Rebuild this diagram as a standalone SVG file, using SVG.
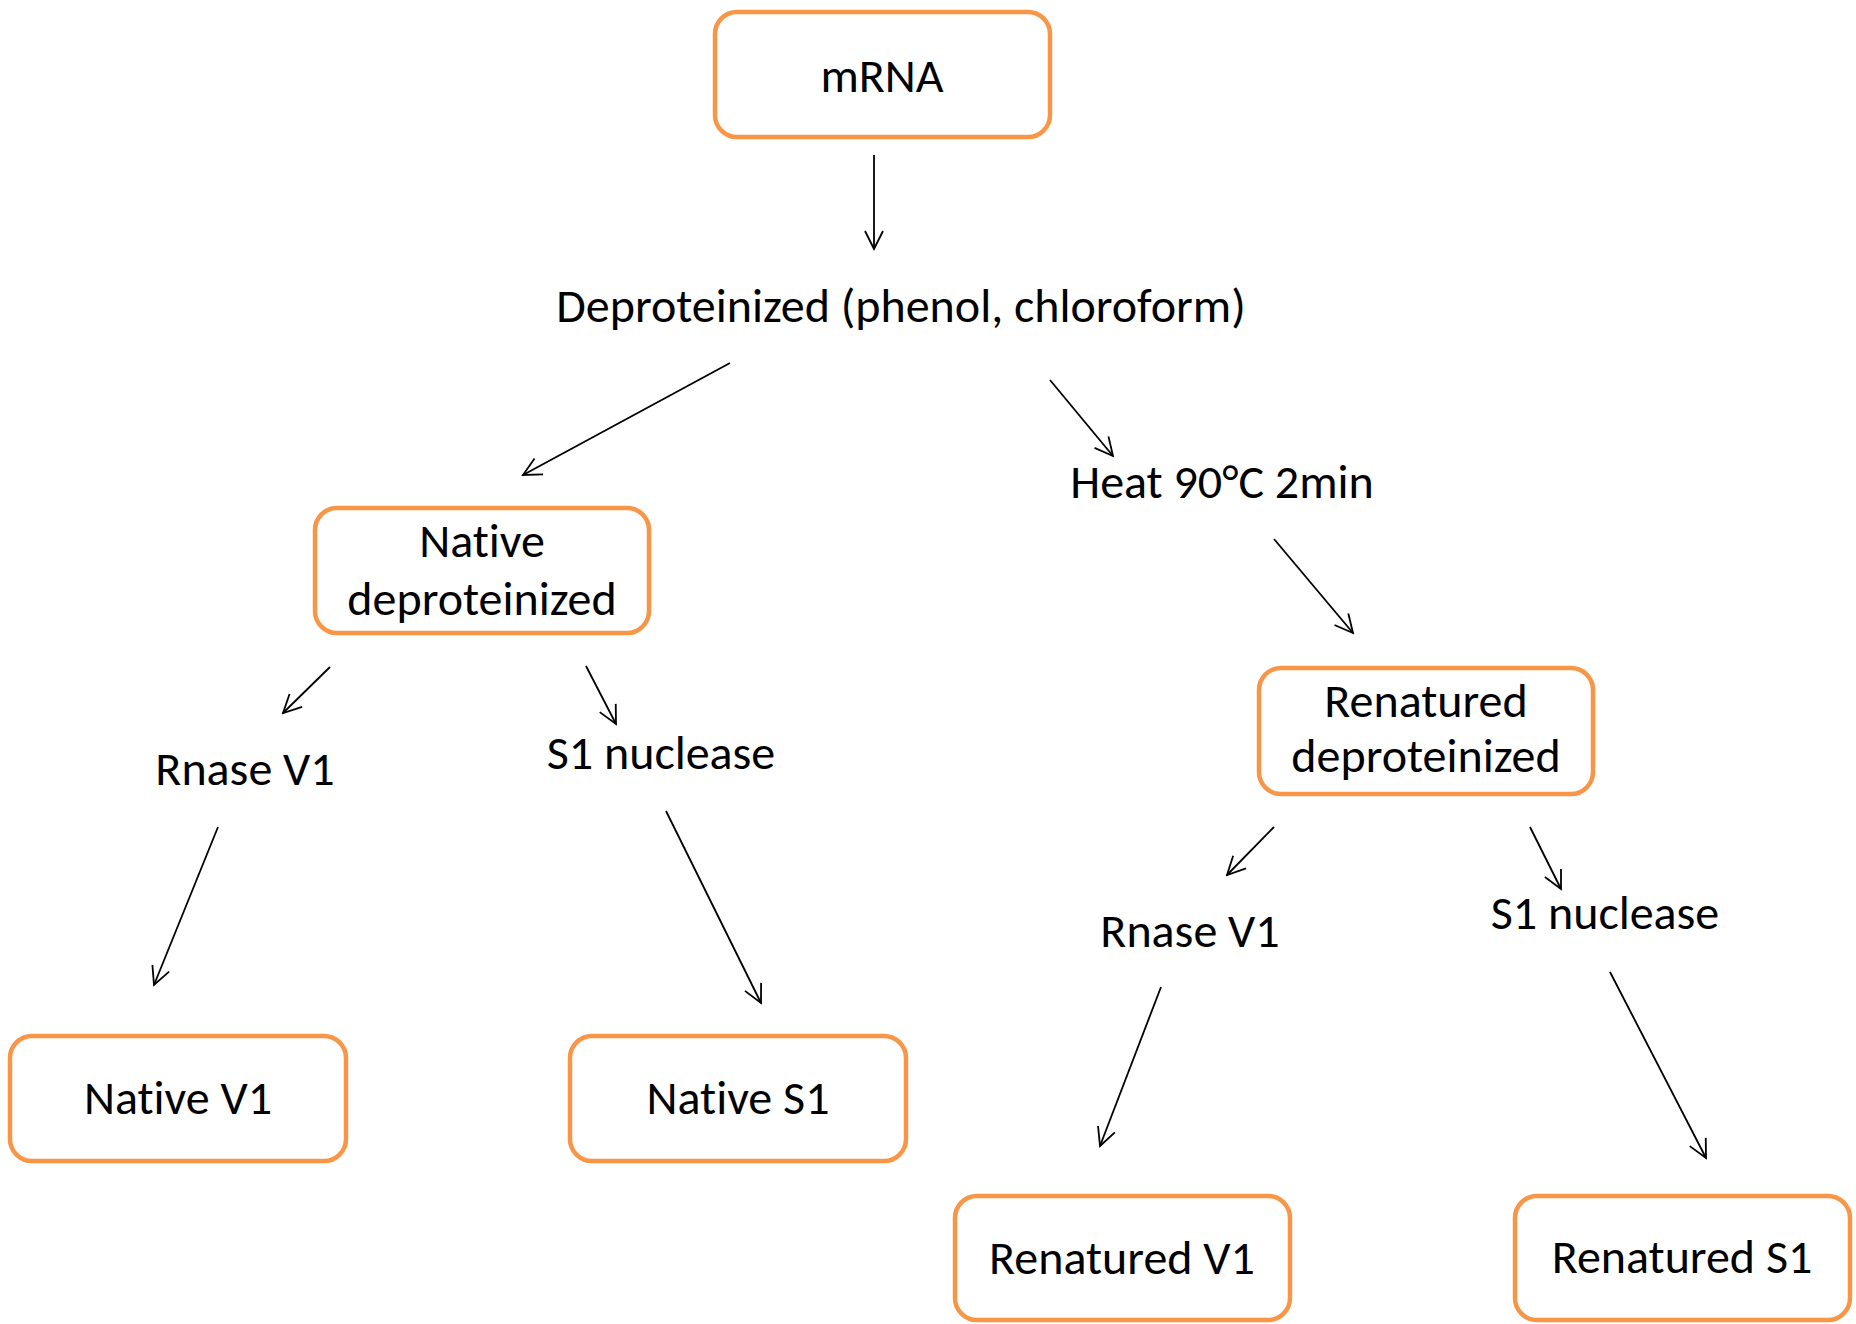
<svg xmlns="http://www.w3.org/2000/svg" width="1856" height="1324" viewBox="0 0 1856 1324">
<style>
.box{fill:#fff;stroke:#F79646;stroke-width:4.5}
.t{font-family:Carlito,Lato,"Liberation Sans",sans-serif;font-size:48px;fill:#000;text-anchor:middle;font-variant-ligatures:none;font-feature-settings:"liga" 0}
.c{stroke:#000;stroke-width:1.8;fill:none;marker-end:url(#ah)}
</style>
<defs>
<marker id="ah" markerUnits="userSpaceOnUse" markerWidth="22" markerHeight="22" viewBox="0 0 22 22" refX="20" refY="11" orient="auto">
<path d="M2,2 L20,11 L2,20" fill="none" stroke="#000" stroke-width="1.8"/>
</marker>
</defs>
<rect width="1856" height="1324" fill="#fff"/>
<g id="connectors">
<line class="c" x1="874" y1="155" x2="874" y2="249"/>
<line class="c" x1="730" y1="363" x2="523" y2="475"/>
<line class="c" x1="1050" y1="380" x2="1113" y2="456"/>
<line class="c" x1="1274" y1="539" x2="1353" y2="633"/>
<line class="c" x1="330" y1="667" x2="283" y2="713"/>
<line class="c" x1="586" y1="666" x2="616" y2="724"/>
<line class="c" x1="218" y1="827" x2="154" y2="985"/>
<line class="c" x1="666" y1="811" x2="761" y2="1003"/>
<line class="c" x1="1274" y1="827" x2="1227" y2="875"/>
<line class="c" x1="1530" y1="827" x2="1561" y2="889"/>
<line class="c" x1="1161" y1="987" x2="1100" y2="1146"/>
<line class="c" x1="1610" y1="972" x2="1706" y2="1158"/>
</g>
<g id="mrna"><rect class="box" x="715" y="12" width="335" height="125" rx="22"/><text class="t" x="882" y="92">mRNA</text></g>
<g id="deprot"><text class="t" x="901" y="322">Deproteinized (phenol, chloroform)</text></g>
<g id="heat"><text class="t" x="1222" y="498">Heat 90°C 2min</text></g>
<g id="native-deprot"><rect class="box" x="315" y="508" width="334" height="125" rx="22"/><text class="t" x="482" y="557">Native</text><text class="t" x="482" y="615">deproteinized</text></g>
<g id="renat-deprot"><rect class="box" x="1259" y="668" width="334" height="126" rx="22"/><text class="t" x="1426" y="717">Renatured</text><text class="t" x="1426" y="772">deproteinized</text></g>
<g id="rnase-left"><text class="t" x="245" y="785">Rnase V1</text></g>
<g id="s1-left"><text class="t" x="661" y="769">S1 nuclease</text></g>
<g id="rnase-right"><text class="t" x="1190" y="947">Rnase V1</text></g>
<g id="s1-right"><text class="t" x="1605" y="929">S1 nuclease</text></g>
<g id="native-v1"><rect class="box" x="10" y="1036" width="336" height="125" rx="22"/><text class="t" x="178" y="1114">Native V1</text></g>
<g id="native-s1"><rect class="box" x="570" y="1036" width="336" height="125" rx="22"/><text class="t" x="738" y="1114">Native S1</text></g>
<g id="renat-v1"><rect class="box" x="955" y="1196" width="335" height="124" rx="22"/><text class="t" x="1122" y="1274">Renatured V1</text></g>
<g id="renat-s1"><rect class="box" x="1515" y="1196" width="335" height="124" rx="22"/><text class="t" x="1682" y="1273">Renatured S1</text></g>
</svg>
